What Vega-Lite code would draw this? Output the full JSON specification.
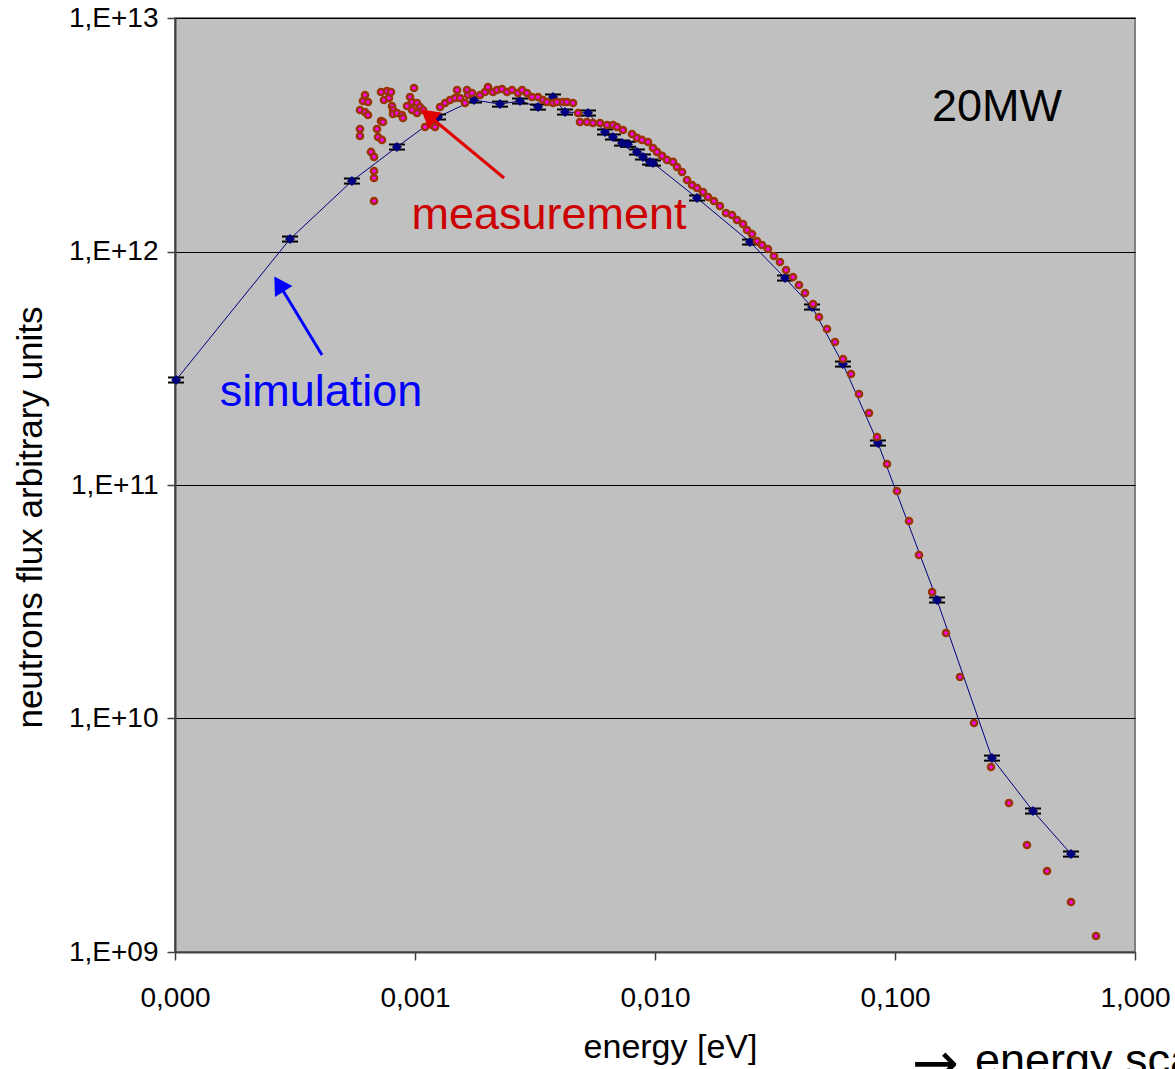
{
  "$schema": "https://vega.github.io/schema/vega-lite/v6.json",
  "width": 960,
  "height": 934,
  "autosize": {"type": "none"},
  "padding": {"left": 175, "top": 18, "right": 40, "bottom": 117},
  "background": "white",
  "config": {
    "view": {"fill": "#c0c0c0", "stroke": "#808080", "strokeWidth": 2},
    "font": "Liberation Sans"
  },
  "datasets": {
    "sim": [
      {"E": 0.000101, "F": 2.817e11, "lo": 2.747e11, "hi": 2.887e11},
      {"E": 0.0003014, "F": 1.131e12, "lo": 1.103e12, "hi": 1.159e12},
      {"E": 0.000546, "F": 2.004e12, "lo": 1.954e12, "hi": 2.054e12},
      {"E": 0.000841, "F": 2.803e12, "lo": 2.733e12, "hi": 2.873e12},
      {"E": 0.001247, "F": 3.767e12, "lo": 3.673e12, "hi": 3.861e12},
      {"E": 0.001761, "F": 4.455e12, "lo": 4.344e12, "hi": 4.566e12},
      {"E": 0.00226, "F": 4.28e12, "lo": 4.173e12, "hi": 4.387e12},
      {"E": 0.002738, "F": 4.41e12, "lo": 4.3e12, "hi": 4.52e12},
      {"E": 0.003254, "F": 4.156e12, "lo": 4.052e12, "hi": 4.26e12},
      {"E": 0.003758, "F": 4.588e12, "lo": 4.473e12, "hi": 4.703e12},
      {"E": 0.004217, "F": 3.958e12, "lo": 3.859e12, "hi": 4.057e12},
      {"E": 0.005257, "F": 3.919e12, "lo": 3.821e12, "hi": 4.017e12},
      {"E": 0.00619, "F": 3.25e12, "lo": 3.169e12, "hi": 3.331e12},
      {"E": 0.00668, "F": 3.094e12, "lo": 3.017e12, "hi": 3.171e12},
      {"E": 0.00729, "F": 2.915e12, "lo": 2.842e12, "hi": 2.988e12},
      {"E": 0.00772, "F": 2.88e12, "lo": 2.808e12, "hi": 2.952e12},
      {"E": 0.00841, "F": 2.668e12, "lo": 2.601e12, "hi": 2.735e12},
      {"E": 0.00891, "F": 2.54e12, "lo": 2.477e12, "hi": 2.604e12},
      {"E": 0.00953, "F": 2.417e12, "lo": 2.357e12, "hi": 2.477e12},
      {"E": 0.00981, "F": 2.393e12, "lo": 2.333e12, "hi": 2.453e12},
      {"E": 0.01496, "F": 1.695e12, "lo": 1.653e12, "hi": 1.737e12},
      {"E": 0.02488, "F": 1.098e12, "lo": 1.071e12, "hi": 1.125e12},
      {"E": 0.03481, "F": 7.7e11, "lo": 7.508e11, "hi": 7.893e11},
      {"E": 0.0451, "F": 5.785e11, "lo": 5.64e11, "hi": 5.93e11},
      {"E": 0.0607, "F": 3.297e11, "lo": 3.215e11, "hi": 3.379e11},
      {"E": 0.0849, "F": 1.513e11, "lo": 1.475e11, "hi": 1.551e11},
      {"E": 0.1496, "F": 3.218e10, "lo": 3.138e10, "hi": 3.298e10},
      {"E": 0.2536, "F": 6.77e9, "lo": 6.601e9, "hi": 6.939e9},
      {"E": 0.3758, "F": 4.017e9, "lo": 3.917e9, "hi": 4.117e9},
      {"E": 0.5412, "F": 2.628e9, "lo": 2.562e9, "hi": 2.694e9}
    ],
    "meas": [
      {"E": 0.0005899, "F": 4.037e12}, {"E": 0.0005899, "F": 3.348e12}, {"E": 0.0005899, "F": 3.125e12},
      {"E": 0.0006071, "F": 4.412e12}, {"E": 0.0006189, "F": 4.681e12}, {"E": 0.0006189, "F": 3.958e12},
      {"E": 0.000637, "F": 4.368e12}, {"E": 0.000637, "F": 3.843e12}, {"E": 0.0006556, "F": 2.669e12},
      {"E": 0.0006748, "F": 2.541e12}, {"E": 0.0006748, "F": 2.212e12}, {"E": 0.0006748, "F": 2.064e12},
      {"E": 0.0006748, "F": 1.645e12}, {"E": 0.0006945, "F": 3.348e12}, {"E": 0.0007012, "F": 3.094e12},
      {"E": 0.0007216, "F": 4.821e12}, {"E": 0.0007216, "F": 3.622e12}, {"E": 0.0007286, "F": 3.004e12},
      {"E": 0.0007356, "F": 3.587e12}, {"E": 0.0007427, "F": 4.455e12}, {"E": 0.0007644, "F": 4.869e12},
      {"E": 0.0007792, "F": 4.544e12}, {"E": 0.0007943, "F": 4.821e12}, {"E": 0.000802, "F": 4.2e12},
      {"E": 0.0008097, "F": 4.037e12}, {"E": 0.0008097, "F": 3.881e12}, {"E": 0.0008414, "F": 3.92e12},
      {"E": 0.0008827, "F": 3.843e12}, {"E": 0.0008913, "F": 3.731e12}, {"E": 0.0009261, "F": 4.2e12},
      {"E": 0.0009532, "F": 4.589e12}, {"E": 0.0009717, "F": 4.368e12}, {"E": 0.0009717, "F": 4.037e12},
      {"E": 0.0009905, "F": 5.015e12}, {"E": 0.001019, "F": 4.326e12}, {"E": 0.001019, "F": 3.92e12},
      {"E": 0.001049, "F": 4.158e12}, {"E": 0.00108, "F": 4.037e12}, {"E": 0.001101, "F": 3.414e12},
      {"E": 0.001177, "F": 3.482e12}, {"E": 0.001212, "F": 3.414e12}, {"E": 0.001271, "F": 4.158e12},
      {"E": 0.001334, "F": 4.326e12}, {"E": 0.001399, "F": 4.455e12}, {"E": 0.001468, "F": 4.544e12},
      {"E": 0.001497, "F": 4.917e12}, {"E": 0.00154, "F": 4.544e12}, {"E": 0.001616, "F": 4.326e12},
      {"E": 0.001647, "F": 4.917e12}, {"E": 0.001663, "F": 4.681e12}, {"E": 0.001728, "F": 4.774e12},
      {"E": 0.001865, "F": 4.681e12}, {"E": 0.001957, "F": 4.821e12}, {"E": 0.002014, "F": 5.065e12},
      {"E": 0.002113, "F": 4.821e12}, {"E": 0.002196, "F": 4.917e12}, {"E": 0.002304, "F": 4.966e12},
      {"E": 0.002418, "F": 4.821e12}, {"E": 0.002536, "F": 4.917e12}, {"E": 0.002687, "F": 4.774e12},
      {"E": 0.002792, "F": 4.917e12}, {"E": 0.002928, "F": 4.774e12}, {"E": 0.003072, "F": 4.589e12},
      {"E": 0.003254, "F": 4.589e12}, {"E": 0.003414, "F": 4.455e12}, {"E": 0.003548, "F": 4.368e12},
      {"E": 0.003758, "F": 4.326e12}, {"E": 0.003905, "F": 4.368e12}, {"E": 0.004137, "F": 4.368e12},
      {"E": 0.004299, "F": 4.368e12}, {"E": 0.004554, "F": 4.326e12}, {"E": 0.004777, "F": 3.92e12},
      {"E": 0.00487, "F": 3.587e12}, {"E": 0.005208, "F": 3.587e12}, {"E": 0.005517, "F": 3.552e12},
      {"E": 0.005899, "F": 3.552e12}, {"E": 0.00631, "F": 3.482e12}, {"E": 0.006684, "F": 3.482e12},
      {"E": 0.006945, "F": 3.414e12}, {"E": 0.007356, "F": 3.315e12}, {"E": 0.008019, "F": 3.187e12},
      {"E": 0.008414, "F": 3.064e12}, {"E": 0.008827, "F": 3.004e12}, {"E": 0.009351, "F": 2.945e12},
      {"E": 0.009811, "F": 2.776e12}, {"E": 0.01019, "F": 2.669e12}, {"E": 0.0107, "F": 2.566e12},
      {"E": 0.01122, "F": 2.467e12}, {"E": 0.01189, "F": 2.419e12}, {"E": 0.01235, "F": 2.301e12},
      {"E": 0.01296, "F": 2.19e12}, {"E": 0.01359, "F": 2.024e12}, {"E": 0.01427, "F": 1.927e12},
      {"E": 0.01497, "F": 1.87e12}, {"E": 0.01585, "F": 1.798e12}, {"E": 0.01663, "F": 1.712e12},
      {"E": 0.01761, "F": 1.645e12}, {"E": 0.01865, "F": 1.566e12}, {"E": 0.01976, "F": 1.462e12},
      {"E": 0.02093, "F": 1.433e12}, {"E": 0.02196, "F": 1.364e12}, {"E": 0.02327, "F": 1.311e12},
      {"E": 0.02418, "F": 1.236e12}, {"E": 0.02536, "F": 1.188e12}, {"E": 0.02661, "F": 1.109e12},
      {"E": 0.02792, "F": 1.066e12}, {"E": 0.02956, "F": 1.025e12}, {"E": 0.03132, "F": 9.566e11},
      {"E": 0.03317, "F": 9.016e11}, {"E": 0.03514, "F": 8.332e11}, {"E": 0.03758, "F": 7.777e11},
      {"E": 0.03981, "F": 7.187e11}, {"E": 0.04217, "F": 6.641e11}, {"E": 0.04554, "F": 5.959e11},
      {"E": 0.04823, "F": 5.243e11}, {"E": 0.05208, "F": 4.658e11}, {"E": 0.05623, "F": 4.098e11},
      {"E": 0.06072, "F": 3.464e11}, {"E": 0.06557, "F": 2.988e11}, {"E": 0.07079, "F": 2.453e11},
      {"E": 0.07792, "F": 2.034e11}, {"E": 0.08414, "F": 1.605e11}, {"E": 0.09261, "F": 1.23e11},
      {"E": 0.1019, "F": 9.426e10}, {"E": 0.1144, "F": 7.013e10}, {"E": 0.1259, "F": 5.014e10},
      {"E": 0.1427, "F": 3.481e10}, {"E": 0.1631, "F": 2.323e10}, {"E": 0.1865, "F": 1.506e10},
      {"E": 0.2134, "F": 9.566e9}, {"E": 0.2512, "F": 6.199e9}, {"E": 0.2985, "F": 4.346e9},
      {"E": 0.3548, "F": 2.872e9}, {"E": 0.4299, "F": 2.223e9}, {"E": 0.5412, "F": 1.637e9},
      {"E": 0.6879, "F": 1.171e9}
    ],
    "arrows": [
      {"series": "measurement", "E1": 0.00235, "F1": 2.064e12, "E2": 0.001133, "F2": 3.843e12},
      {"series": "simulation", "E1": 0.0004097, "F1": 3.603e11, "E2": 0.0002712, "F2": 7.258e11}
    ]
  },
  "layer": [
    {
      "data": {"name": "sim"},
      "mark": {"type": "line", "color": "#000080", "strokeWidth": 1},
      "encoding": {
        "x": {
          "field": "E", "type": "quantitative",
          "scale": {"type": "log", "domain": [0.0001, 1], "nice": false},
          "axis": {
            "title": "energy [eV]",
            "values": [0.0001, 0.001, 0.01, 0.1, 1],
            "labelExpr": "replace(format(datum.value, '.3f'), '.', ',')",
            "labelFontSize": 28, "labelColor": "black", "labelPadding": 24,
            "labelOverlap": false, "labelFlush": false, "labelBound": false,
            "tickSize": 8, "tickColor": "#404040", "tickWidth": 1.5,
            "domainColor": "#404040", "domainWidth": 2,
            "grid": false,
            "titleFontSize": 34, "titleFontWeight": "normal", "titleColor": "black",
            "titleX": 495, "titleY": 95, "titleBaseline": "middle"
          }
        },
        "y": {
          "field": "F", "type": "quantitative",
          "scale": {"type": "log", "domain": [1e9, 1e13], "nice": false},
          "axis": {
            "title": "neutrons flux  arbitrary units",
            "values": [1e9, 1e10, 1e11, 1e12, 1e13],
            "labelExpr": "'1,E+' + format(round(log(datum.value) / LN10), '02d')",
            "labelFontSize": 28, "labelColor": "black", "labelPadding": 9,
            "labelOverlap": false, "labelFlush": false, "labelBound": false,
            "tickSize": 8, "tickColor": "#404040", "tickWidth": 1.5,
            "domainColor": "#404040", "domainWidth": 2,
            "grid": true, "gridColor": "#000000", "gridWidth": 1, "gridOpacity": 1,
            "titleFontSize": 35, "titleFontWeight": "normal", "titleColor": "black",
            "titleX": -145, "titleY": 499, "titleAngle": -90, "titleBaseline": "middle", "titleAlign": "center"
          }
        }
      }
    },
    {
      "data": {"name": "sim"},
      "mark": {"type": "rule", "color": "black", "strokeWidth": 1.5},
      "encoding": {
        "x": {"field": "E", "type": "quantitative", "scale": {"type": "log"}},
        "y": {"field": "lo", "type": "quantitative", "scale": {"type": "log"}},
        "y2": {"field": "hi"}
      }
    },
    {
      "data": {"name": "sim"},
      "mark": {"type": "tick", "orient": "horizontal", "color": "black", "size": 16, "thickness": 2, "opacity": 1},
      "encoding": {
        "x": {"field": "E", "type": "quantitative", "scale": {"type": "log"}},
        "y": {"field": "lo", "type": "quantitative", "scale": {"type": "log"}}
      }
    },
    {
      "data": {"name": "sim"},
      "mark": {"type": "tick", "orient": "horizontal", "color": "black", "size": 16, "thickness": 2, "opacity": 1},
      "encoding": {
        "x": {"field": "E", "type": "quantitative", "scale": {"type": "log"}},
        "y": {"field": "hi", "type": "quantitative", "scale": {"type": "log"}}
      }
    },
    {
      "data": {"name": "sim"},
      "mark": {"type": "point", "shape": "diamond", "filled": true, "color": "#000080", "size": 100, "opacity": 1},
      "encoding": {
        "x": {"field": "E", "type": "quantitative", "scale": {"type": "log"}},
        "y": {"field": "F", "type": "quantitative", "scale": {"type": "log"}}
      }
    },
    {
      "data": {"name": "meas"},
      "mark": {"type": "point", "shape": "circle", "filled": true, "fill": "#ff00ff", "stroke": "#993300", "strokeWidth": 2.5, "size": 38, "opacity": 1},
      "encoding": {
        "x": {"field": "E", "type": "quantitative", "scale": {"type": "log"}},
        "y": {"field": "F", "type": "quantitative", "scale": {"type": "log"}}
      }
    },
    {
      "data": {"name": "arrows"},
      "mark": {"type": "rule", "strokeWidth": 3},
      "encoding": {
        "x": {"field": "E1", "type": "quantitative", "scale": {"type": "log"}},
        "y": {"field": "F1", "type": "quantitative", "scale": {"type": "log"}},
        "x2": {"field": "E2"},
        "y2": {"field": "F2"},
        "color": {"field": "series", "type": "nominal", "scale": {"domain": ["measurement", "simulation"], "range": ["#e00000", "#0000ff"]}, "legend": null}
      }
    },
    {
      "data": {"name": "arrows"},
      "transform": [{"filter": "datum.series === 'measurement'"}],
      "mark": {"type": "point", "shape": "triangle-up", "filled": true, "color": "#e00000", "size": 420, "angle": 309, "opacity": 1},
      "encoding": {
        "x": {"field": "E2", "type": "quantitative", "scale": {"type": "log"}},
        "y": {"field": "F2", "type": "quantitative", "scale": {"type": "log"}}
      }
    },
    {
      "data": {"name": "arrows"},
      "transform": [{"filter": "datum.series === 'simulation'"}],
      "mark": {"type": "point", "shape": "triangle-up", "filled": true, "color": "#0000ff", "size": 420, "angle": 328, "opacity": 1},
      "encoding": {
        "x": {"field": "E2", "type": "quantitative", "scale": {"type": "log"}},
        "y": {"field": "F2", "type": "quantitative", "scale": {"type": "log"}}
      }
    },
    {
      "data": {"values": [{"label": "measurement", "E": 0.003617, "F": 1.249e12}]},
      "mark": {"type": "text", "fontSize": 45, "color": "#cc0000", "align": "center", "baseline": "alphabetic"},
      "encoding": {
        "x": {"field": "E", "type": "quantitative", "scale": {"type": "log"}},
        "y": {"field": "F", "type": "quantitative", "scale": {"type": "log"}},
        "text": {"field": "label"}
      }
    },
    {
      "data": {"values": [{"label": "simulation", "E": 0.0004057, "F": 2.179e11}]},
      "mark": {"type": "text", "fontSize": 45, "color": "#0000ff", "align": "center", "baseline": "alphabetic"},
      "encoding": {
        "x": {"field": "E", "type": "quantitative", "scale": {"type": "log"}},
        "y": {"field": "F", "type": "quantitative", "scale": {"type": "log"}},
        "text": {"field": "label"}
      }
    },
    {
      "data": {"values": [{"label": "20MW", "E": 0.266, "F": 3.623e12}]},
      "mark": {"type": "text", "fontSize": 45, "color": "black", "align": "center", "baseline": "alphabetic"},
      "encoding": {
        "x": {"field": "E", "type": "quantitative", "scale": {"type": "log"}},
        "y": {"field": "F", "type": "quantitative", "scale": {"type": "log"}},
        "text": {"field": "label"}
      }
    },
    {
      "data": {"values": [{"label": "→", "E": 0.1177, "F": 2.776e8}]},
      "mark": {"type": "text", "font": "DejaVu Sans", "fontSize": 56, "color": "black", "align": "left", "baseline": "alphabetic", "clip": false},
      "encoding": {
        "x": {"field": "E", "type": "quantitative", "scale": {"type": "log"}},
        "y": {"field": "F", "type": "quantitative", "scale": {"type": "log"}},
        "text": {"field": "label"}
      }
    },
    {
      "data": {"values": [{"label": "energy scale", "E": 0.2154, "F": 2.974e8}]},
      "mark": {"type": "text", "fontSize": 45, "color": "black", "align": "left", "baseline": "alphabetic", "clip": false},
      "encoding": {
        "x": {"field": "E", "type": "quantitative", "scale": {"type": "log"}},
        "y": {"field": "F", "type": "quantitative", "scale": {"type": "log"}},
        "text": {"field": "label"}
      }
    }
  ]
}
